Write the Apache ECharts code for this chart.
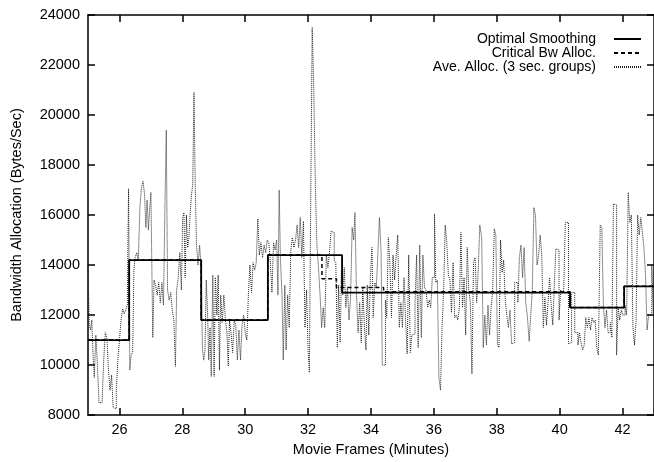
<!DOCTYPE html>
<html><head><meta charset="utf-8">
<script src="https://cdn.jsdelivr.net/npm/echarts@6/dist/echarts.min.js"></script>
<style>html,body{margin:0;padding:0;background:#fff}#c{width:654px;height:462px}</style>
</head><body><div id="c"></div>
<script>
const xTickValues = [26, 28, 30, 32, 34, 36, 38, 40, 42];
const seriesNames = ['Optimal Smoothing', 'Critical Bw Alloc.', 'Ave. Alloc. (3 sec. groups)'];

const optimalMinutes = [25, 26.31, 28.6, 30.72, 33.08, 40.33, 42.05, 43];
const optimalValues  = [11000, 14200, 11800, 14400, 12900, 12300, 13150, 13150];

const criticalMinutes = [25, 26.31, 28.6, 30.72, 32.44, 32.9, 34.4, 40.33, 42.05, 43];
const criticalValues  = [11000, 14200, 11800, 14400, 13450, 13100, 12930, 12300, 13150, 13150];

const aveMinutes = [
25.00,25.04,25.08,25.12,25.16,25.20,25.25,25.30,25.35,25.40,25.45,25.50,25.55,25.60,25.65,25.70,25.75,25.80,25.85,25.90,25.95,
26.00,26.05,26.10,26.15,26.20,26.25,26.29,26.33,26.37,26.42,26.46,26.50,26.55,26.60,26.65,26.70,26.75,26.80,26.84,26.88,26.92,26.96,
27.00,27.06,27.10,27.15,27.20,27.25,27.30,27.35,27.40,27.45,27.49,27.53,27.58,27.63,27.68,27.73,27.78,27.82,27.87,27.92,27.97,
28.01,28.05,28.09,28.13,28.17,28.21,28.25,28.29,28.33,28.37,28.41,28.45,28.50,28.55,28.60,28.64,28.68,28.72,28.76,28.80,28.84,28.88,28.92,28.97,
29.01,29.05,29.10,29.14,29.18,29.22,29.27,29.32,29.37,29.42,29.46,29.50,29.55,29.60,29.65,29.70,29.75,29.80,29.85,29.90,29.95,
30.00,30.05,30.10,30.15,30.20,30.25,30.30,30.35,30.40,30.45,30.50,30.55,30.60,30.65,30.70,30.75,30.80,30.85,30.90,30.95,
31.00,31.04,31.08,31.12,31.17,31.21,31.26,31.30,31.35,31.40,31.45,31.50,31.55,31.60,31.65,31.70,31.75,31.80,31.85,31.90,31.95,
32.00,32.04,32.08,32.13,32.18,32.23,32.28,32.33,32.38,32.43,32.48,32.53,32.58,32.63,32.68,32.73,32.78,32.83,32.88,32.93,32.97,
33.02,33.06,33.10,33.15,33.20,33.25,33.30,33.35,33.40,33.45,33.49,33.54,33.59,33.64,33.69,33.74,33.79,33.84,33.88,33.93,33.98,
34.03,34.07,34.12,34.17,34.22,34.27,34.32,34.36,34.41,34.46,34.50,34.55,34.60,34.65,34.70,34.75,34.80,34.85,34.90,34.95,
35.00,35.05,35.10,35.15,35.20,35.25,35.30,35.35,35.40,35.45,35.50,35.55,35.60,35.65,35.70,35.75,35.80,35.85,35.90,35.95,
36.02,36.06,36.11,36.16,36.21,36.26,36.31,36.36,36.41,36.46,36.51,36.56,36.61,36.66,36.71,36.76,36.81,36.86,36.91,36.96,
37.01,37.06,37.11,37.16,37.21,37.26,37.31,37.36,37.41,37.46,37.52,37.57,37.62,37.67,37.72,37.77,37.82,37.87,37.92,37.97,
38.02,38.07,38.12,38.17,38.22,38.27,38.32,38.37,38.42,38.47,38.52,38.57,38.62,38.67,38.72,38.77,38.82,38.87,38.92,38.97,
39.03,39.08,39.13,39.18,39.23,39.28,39.33,39.38,39.43,39.48,39.53,39.58,39.63,39.68,39.73,39.78,39.83,39.88,39.93,39.98,
40.03,40.08,40.13,40.18,40.23,40.28,40.33,40.38,40.43,40.48,40.58,40.63,40.68,40.73,40.78,40.83,40.88,40.93,40.98,
41.03,41.08,41.13,41.18,41.23,41.29,41.34,41.39,41.44,41.49,41.54,41.61,41.66,41.71,41.76,41.81,41.86,41.91,41.96,
42.01,42.08,42.13,42.18,42.23,42.28,42.33,42.38,42.43,42.48,42.53,42.58,42.63,42.68,42.73,42.78,42.83,42.88,42.93,42.98
];
const aveValues = [
14000,11600,11400,11800,10400,9500,11200,10000,8500,8500,8600,10200,11300,11100,9800,9000,9600,8300,8250,9000,10200,
11000,11800,12250,12050,12200,12400,17050,9800,10400,10500,13800,14300,14500,14200,16300,17100,17350,16800,15500,16600,15400,16200,
16900,11100,13400,13200,12800,13300,12500,13300,12400,16600,19400,13000,12600,12900,12200,11800,9950,13000,13500,14500,13000,
15900,16100,13500,16000,14700,15100,16100,16800,17200,20900,17200,14800,14000,14800,13800,10600,10200,10600,13400,12200,10200,11500,9550,13600,
9550,13500,12000,13600,9800,12800,11700,12800,11800,11300,9950,11800,11300,10500,11800,11600,10200,11400,10200,11600,12000,
11300,11000,12800,14000,12900,14100,13800,14100,15850,14400,14900,14300,14800,14500,15000,14900,14100,12900,14900,14600,
15000,12800,17000,14200,12800,10200,13200,10600,12800,11500,14600,15100,14700,15000,15600,14700,15900,14300,15750,11500,13000,
10600,9700,16100,23500,21000,17200,14800,13900,12800,11500,12300,11500,14400,13900,14500,15350,15300,14200,14100,10700,13200,
10900,13800,12800,13900,12300,13100,11800,12700,15500,15000,16100,12800,11300,12500,10900,13100,11500,10600,13200,11200,13500,
14700,11900,13300,13100,14500,15900,14500,10000,10000,12600,11900,15100,14100,11900,14400,13400,14400,15200,11500,12500,
11500,13500,11800,10450,14400,10500,11200,11250,12500,14400,10700,14800,11100,14400,13100,13000,12300,12600,12300,13500,
16050,13300,13400,9500,9000,11500,13000,15600,14900,13600,13400,12100,14100,11900,12000,11800,12300,15300,12300,13500,
11200,14700,13000,12500,9650,14100,14300,12500,13800,15600,15100,10700,12000,10800,12400,11200,12300,13000,15450,15200,
10850,10700,15000,13700,14200,12600,12000,11500,12200,10850,10900,13300,13300,12500,14300,14800,13500,14700,12500,12000,
10950,12000,13000,16300,16000,14000,14400,15200,14400,11500,12700,11600,12500,13500,12400,11600,13200,14650,14600,11800,
13000,12900,13000,15700,15700,10850,10900,12900,12900,11300,10800,11300,10900,10600,10800,11900,11500,11900,11400,
11900,11700,11800,10700,10400,15600,15500,12400,11500,12200,11300,11700,11100,16450,16400,10400,12300,11800,12200,
12000,12400,12000,16900,15700,16000,11500,10800,11800,16000,15200,15900,15300,14700,13600,11400,12000,12000,14000,12000
];

const FONT = "'Liberation Sans', Arial, Helvetica, sans-serif";
const pairs = (xs, ys) => xs.map((x, i) => [x, ys[i]]);
const axisLine = { show: true, lineStyle: { color: '#000', width: 1.5 } };
const tick = { show: true, inside: true, length: 7, lineStyle: { color: '#000', width: 1.5 } };
const plain = v => String(v);

const chart = echarts.init(document.getElementById('c'), null, { renderer: 'canvas' });
chart.setOption({
  animation: false,
  backgroundColor: '#fff',
  grid: { left: 88, right: -3, top: 15, bottom: 43 },
  legend: {
    data: seriesNames,
    orient: 'vertical', align: 'right', right: 12, top: 32, padding: 0,
    itemWidth: 27, itemHeight: 13, itemGap: 0, selectedMode: false,
    itemStyle: { opacity: 0 },
    textStyle: { fontFamily: FONT, fontSize: 14, color: '#000', lineHeight: 13, padding: [0, 13, 0, 0] }
  },
  xAxis: [
    { type: 'value', position: 'bottom', min: 25, max: 43,
      axisLine: axisLine, axisTick: Object.assign({ customValues: xTickValues }, tick),
      axisLabel: { customValues: xTickValues, formatter: plain, color: '#000', fontFamily: FONT, fontSize: 14.5, margin: 7 },
      splitLine: { show: false },
      name: 'Movie Frames (Minutes)', nameLocation: 'middle', nameGap: 23,
      nameTextStyle: { color: '#000', fontFamily: FONT, fontSize: 14.5 } },
    { type: 'value', position: 'top', min: 25, max: 43,
      axisLine: axisLine, axisTick: Object.assign({ customValues: xTickValues }, tick),
      axisLabel: { show: false }, splitLine: { show: false } }
  ],
  yAxis: [
    { type: 'value', position: 'left', min: 8000, max: 24000, interval: 2000,
      axisLine: axisLine, axisTick: tick,
      axisLabel: { formatter: plain, color: '#000', fontFamily: FONT, fontSize: 14.5, margin: 8 },
      splitLine: { show: false },
      name: 'Bandwidth Allocation (Bytes/Sec)', nameLocation: 'middle', nameGap: 64, nameRotate: 90,
      nameTextStyle: { color: '#000', fontFamily: FONT, fontSize: 14.5 } },
    { type: 'value', position: 'right', min: 8000, max: 24000, interval: 2000,
      axisLine: axisLine, axisTick: tick, axisLabel: { show: false }, splitLine: { show: false } }
  ],
  series: [
    { name: seriesNames[2], type: 'line', step: 'end', symbol: 'none', z: 2,
      data: pairs(aveMinutes, aveValues), itemStyle: { color: '#222' },
      lineStyle: { color: '#222', width: 1, type: [1, 1] } },
    { name: seriesNames[0], type: 'line', step: 'end', symbol: 'none', z: 3,
      data: pairs(optimalMinutes, optimalValues), itemStyle: { color: '#000' },
      lineStyle: { color: '#000', width: 1.8, type: 'solid' } },
    { name: seriesNames[1], type: 'line', step: 'end', symbol: 'none', z: 4,
      data: pairs(criticalMinutes, criticalValues), itemStyle: { color: '#000' },
      lineStyle: { color: '#000', width: 1.5, type: [4, 3] } }
  ]
});
</script>
</body></html>
